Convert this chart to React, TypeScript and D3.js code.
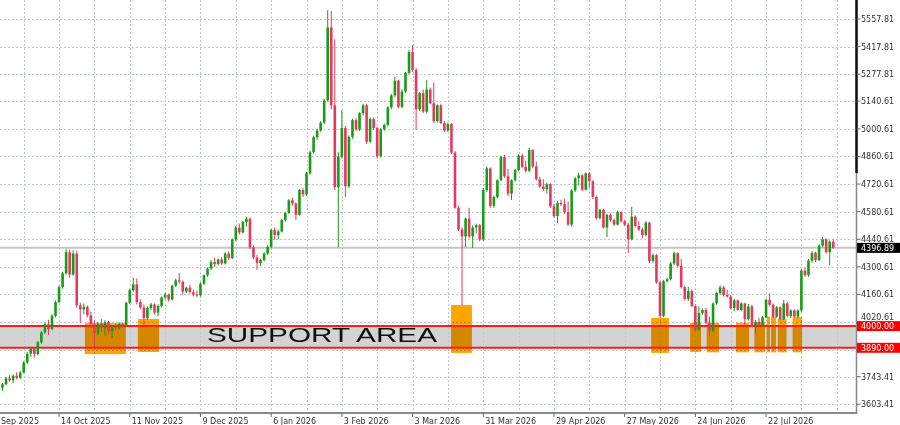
import React from "react";
import * as d3 from "d3";

// ---- Candles (daily), bar index 0..235 ----
const opens = [
  3688,3705,3735,3725,3748,3738,3765,3815,3860,3885,
  3858,3918,3968,4010,3985,4052,4122,4198,4268,4375,
  4262,4368,4105,4085,4098,4055,4010,3965,4012,3990,
  4020,3975,3995,3990,4010,4003,4118,4182,4212,4122,
  4095,4040,4092,4110,4068,4102,4145,4160,4135,4205,
  4232,4225,4175,4195,4172,4160,4156,4215,4258,4292,
  4325,4315,4338,4318,4368,4345,4440,4500,4475,4528,
  4545,4400,4348,4320,4335,4368,4402,4487,4462,4480,
  4538,4574,4638,4622,4565,4690,4668,4775,4882,4958,
  4992,5032,5145,5515,5120,4705,4860,5005,4710,4960,
  5045,4998,5080,5120,4935,5050,5005,4862,4998,5020,
  5110,5170,5245,5112,5190,5284,5390,5300,5100,5182,
  5088,5200,5130,5040,5120,5030,4992,5025,4880,4600,
  4490,4455,4545,4455,4500,4512,4440,4690,4800,4610,
  4655,4740,4858,4760,4672,4740,4792,4865,4808,4788,
  4893,4810,4745,4708,4695,4720,4608,4558,4625,4618,
  4578,4515,4688,4750,4765,4692,4775,4735,4655,4548,
  4590,4500,4564,4538,4515,4578,4532,4515,4440,4555,
  4508,4490,4462,4525,4330,4360,4222,4052,4228,4238,
  4318,4370,4306,4198,4138,4178,4102,3982,4066,4082,
  4018,3978,4115,4168,4196,4158,4150,4092,4130,4082,
  4115,4035,4100,4002,4022,4005,4045,4133,4108,4048,
  4095,4035,4115,4052,4080,4048,4080,4282,4258,4332,
  4372,4335,4408,4440,4375,4428,
];
const highs = [
  3712,3742,3752,3755,3765,3772,3822,3868,3895,3892,
  3925,3975,4018,4032,4060,4130,4205,4275,4390,4388,
  4385,4382,4118,4115,4105,4072,4030,4022,4035,4030,
  4028,4005,4012,4020,4018,4125,4190,4245,4242,4135,
  4110,4100,4118,4115,4110,4150,4170,4165,4210,4240,
  4270,4232,4200,4210,4185,4180,4222,4262,4298,4335,
  4345,4342,4350,4375,4380,4445,4508,4520,4535,4555,
  4552,4408,4362,4342,4375,4410,4495,4500,4490,4545,
  4580,4645,4650,4628,4695,4700,4782,4890,4965,5000,
  5040,5152,5603,5598,5455,4882,5096,5015,4968,5052,
  5055,5085,5128,5126,5060,5058,5012,5005,5028,5115,
  5178,5265,5250,5200,5290,5402,5426,5310,5188,5200,
  5248,5210,5235,5125,5128,5040,5032,5030,4888,4612,
  4500,4550,4600,4510,4520,4518,4700,4810,4805,4662,
  4745,4865,4868,4798,4745,4798,4872,4875,4840,4905,
  4898,4835,4758,4745,4728,4725,4620,4635,4640,4645,
  4632,4695,4755,4778,4770,4780,4782,4740,4662,4595,
  4596,4570,4572,4545,4585,4582,4540,4525,4605,4562,
  4532,4500,4532,4530,4368,4365,4230,4235,4245,4325,
  4378,4375,4340,4205,4200,4186,4110,4100,4090,4092,
  4048,4120,4175,4207,4205,4185,4158,4138,4136,4120,
  4118,4112,4108,4030,4042,4050,4140,4166,4115,4102,
  4100,4133,4124,4085,4085,4085,4290,4295,4340,4380,
  4378,4415,4453,4446,4435,4440,
];
const lows = [
  3672,3700,3718,3712,3730,3732,3760,3808,3845,3840,
  3852,3910,3960,3955,3978,4045,4115,4190,4260,4245,
  4255,4095,4015,4060,4045,3990,3893,3955,3970,3950,
  3960,3940,3978,3982,3990,3998,4112,4175,4110,4085,
  4005,4030,4080,4060,4050,4095,4135,4125,4130,4198,
  4215,4160,4168,4165,4150,4148,4150,4208,4250,4285,
  4300,4308,4310,4312,4335,4340,4430,4465,4470,4505,
  4390,4340,4285,4305,4328,4360,4395,4437,4440,4475,
  4530,4568,4610,4538,4560,4655,4660,4768,4875,4945,
  4985,5025,5138,5100,4690,4400,4850,4655,4700,4950,
  4990,4990,5070,4925,4930,4995,4850,4855,4990,5012,
  5100,5160,5105,5105,5182,5278,5290,4995,5090,5080,
  5080,5125,5030,5032,5025,4985,4985,4872,4595,4482,
  4107,4400,4445,4396,4470,4430,4432,4680,4600,4600,
  4648,4735,4752,4660,4640,4732,4785,4800,4780,4780,
  4800,4738,4700,4685,4672,4600,4550,4522,4610,4570,
  4508,4505,4680,4712,4685,4688,4700,4645,4540,4540,
  4495,4452,4530,4508,4510,4525,4508,4370,4435,4500,
  4482,4445,4455,4320,4322,4215,4040,4045,4220,4232,
  4310,4300,4190,4130,4128,4095,3970,3975,4058,4010,
  3950,3970,4108,4160,4150,4145,4085,4075,4078,4075,
  3997,4028,3995,3963,3995,3998,4040,4100,4040,4042,
  4028,4030,4045,4040,4042,4040,4072,4250,4250,4322,
  4325,4330,4400,4368,4310,4392,
];
const closes = [
  3705,3735,3725,3748,3738,3765,3815,3860,3885,3858,
  3918,3968,4010,3985,4052,4122,4198,4268,4375,4262,
  4368,4105,4085,4098,4055,4010,3965,4012,3990,4020,
  3975,3995,3990,4010,4003,4118,4182,4212,4122,4095,
  4040,4092,4110,4068,4102,4145,4160,4135,4205,4232,
  4225,4175,4195,4172,4160,4156,4215,4258,4292,4325,
  4315,4338,4318,4368,4345,4440,4500,4475,4528,4545,
  4400,4348,4320,4335,4368,4402,4487,4462,4480,4538,
  4574,4638,4622,4565,4690,4668,4775,4882,4958,4992,
  5032,5145,5515,5120,4705,4860,5005,4710,4960,5045,
  4998,5080,5120,4935,5050,5005,4862,4998,5020,5110,
  5170,5245,5112,5190,5284,5390,5300,5100,5182,5088,
  5200,5130,5040,5120,5030,4992,5025,4880,4600,4490,
  4455,4545,4455,4500,4512,4440,4690,4800,4610,4655,
  4740,4858,4760,4672,4740,4792,4865,4808,4788,4893,
  4810,4745,4708,4695,4720,4608,4558,4625,4618,4578,
  4515,4688,4750,4765,4692,4775,4735,4655,4548,4590,
  4500,4564,4538,4515,4578,4532,4515,4440,4555,4508,
  4490,4462,4525,4330,4360,4222,4052,4228,4238,4318,
  4370,4306,4198,4138,4178,4102,3982,4066,4082,4018,
  3978,4115,4168,4196,4158,4150,4092,4130,4082,4115,
  4035,4100,4002,4022,4005,4045,4133,4108,4048,4095,
  4035,4115,4052,4080,4048,4080,4282,4258,4332,4372,
  4335,4408,4440,4375,4428,4396.89,
];

// ---- Axis labels ----
const priceGrid = [5557.81, 5417.81, 5277.81, 5140.61, 5000.61, 4860.61, 4720.61, 4580.61, 4440.61, 4300.61, 4160.61, 4020.61, 3880.61, 3743.41, 3603.41];
const priceLabels = [5557.81, 5417.81, 5277.81, 5140.61, 5000.61, 4860.61, 4720.61, 4580.61, 4440.61, 4300.61, 4160.61, 4020.61, 3743.41, 3603.41];
const dateLabels = ["Sep 2025", "14 Oct 2025", "11 Nov 2025", "9 Dec 2025", "6 Jan 2026", "3 Feb 2026", "3 Mar 2026", "31 Mar 2026", "29 Apr 2026", "27 May 2026", "24 Jun 2026", "22 Jul 2026"];
const dateBars = [-4, 16, 36, 56, 76, 96, 116, 136, 156, 176, 196, 216];
const gridBars = [6, 16, 26, 36, 46, 56, 66, 76, 86, 96, 106, 116, 126, 136, 146, 156, 166, 176, 186, 196, 206, 216, 226, 236];

// ---- Annotations ----
const supportTop = 4000;
const supportBottom = 3890;
const lastPrice = 4396.89;
const supportText = "SUPPORT AREA";
const zoneStart = [23.3, 38.3, 126.9, 183.5, 194.5, 199.2, 207.5, 212.7, 216.2, 217.4, 219.3, 223.5];
const zoneEnd = [34.9, 44.3, 132.8, 188.5, 197.6, 202.7, 211.2, 215.7, 217.1, 218.8, 221.8, 226.2];
const zoneTop = [4015, 4036, 4107, 4041, 4016, 4017, 4017, 4017, 4048, 4048, 4036, 4045];
const zoneBottom = [3858, 3869, 3864, 3864, 3869, 3867, 3867, 3867, 3867, 3867, 3867, 3867];

export default function App() {
  const W = 900;
  const H = 425;
  const plotRight = 856.5;
  const plotBottom = 413;
  const step = 3.535;
  const x = d3.scaleLinear().domain([0, 235]).range([2.5, 2.5 + 235 * step]);
  const y = d3.scaleLinear().domain([3603.41, 5557.81]).range([404.3, 19]);
  const bodyW = 2.6;
  const axisFont = "'DejaVu Sans', Verdana, sans-serif";
  const up = "#179c17";
  const down = "#e6375f";
  const gridColor = "#c3c9d2";

  const candles = d3.range(opens.length).map((i) => {
    const o = opens[i];
    const c = closes[i];
    const h = Math.max(highs[i], o, c);
    const l = Math.min(lows[i], o, c);
    return { i, o, c, h, l };
  });

  return (
    <svg
      width={W}
      height={H}
      style={{ position: "absolute", left: 0, top: 0, display: "block", background: "#fff" }}
    >
      <rect x={0} y={0} width={W} height={H} fill="#ffffff" />

      {/* support band */}
      <rect
        x={0}
        y={y(supportTop)}
        width={plotRight}
        height={y(supportBottom) - y(supportTop)}
        fill="#d3d3d3"
      />

      {/* grid */}
      <g stroke={gridColor} strokeWidth={1} strokeDasharray="2,2">
        {priceGrid.map((v) => (
          <line key={"hg" + v} x1={0} x2={plotRight} y1={Math.round(y(v)) + 0.5} y2={Math.round(y(v)) + 0.5} />
        ))}
        {gridBars.map((b) => (
          <line key={"vg" + b} x1={Math.round(x(b)) + 0.5} x2={Math.round(x(b)) + 0.5} y1={0} y2={plotBottom} />
        ))}
      </g>

      {/* orange zones */}
      <g>
        {zoneStart.map((s, k) => (
          <rect
            key={"z" + k}
            x={x(s)}
            y={y(zoneTop[k])}
            width={x(zoneEnd[k]) - x(s)}
            height={y(zoneBottom[k]) - y(zoneTop[k])}
            fill="#ffa500"
            style={{ mixBlendMode: "multiply" }}
          />
        ))}
      </g>

      {/* current price line */}
      <line x1={0} x2={plotRight} y1={y(lastPrice)} y2={y(lastPrice)} stroke="#c6c6c6" strokeWidth={2} />

      {/* support lines */}
      <line x1={0} x2={plotRight} y1={y(supportTop)} y2={y(supportTop)} stroke="#ff1a1a" strokeWidth={2} />
      <line x1={0} x2={plotRight} y1={y(supportBottom)} y2={y(supportBottom)} stroke="#ff1a1a" strokeWidth={2} />

      {/* candles */}
      <g>
        {candles.map((d) => {
          const col = d.c >= d.o ? up : down;
          const cx = x(d.i);
          const top = y(Math.max(d.o, d.c));
          const bot = y(Math.min(d.o, d.c));
          return (
            <g key={"c" + d.i}>
              <line x1={cx} x2={cx} y1={y(d.h)} y2={y(d.l)} stroke={col} strokeWidth={1} />
              <rect x={cx - bodyW / 2} y={top} width={bodyW} height={Math.max(1, bot - top)} fill={col} />
            </g>
          );
        })}
      </g>

      {/* support text */}
      <text
        x={207}
        y={342}
        fontFamily="'Liberation Sans', Arial, sans-serif"
        fontSize={21}
        fill="#111"
        textLength={230}
        lengthAdjust="spacingAndGlyphs"
      >
        {supportText}
      </text>

      {/* axes lines */}
      <line x1={0} x2={plotRight + 0.5} y1={plotBottom} y2={plotBottom} stroke="#8a8a8a" strokeWidth={2} />
      <line x1={plotRight} x2={plotRight} y1={0} y2={plotBottom + 1} stroke="#8a8a8a" strokeWidth={1.5} />
      <line x1={plotRight} x2={plotRight} y1={0} y2={173} stroke="#111" strokeWidth={2.5} />

      {/* y ticks + labels */}
      <g fontFamily={axisFont} fontSize={8} fill="#333">
        {priceGrid.map((v) => (
          <line key={"yt" + v} x1={plotRight} x2={plotRight + 4} y1={y(v)} y2={y(v)} stroke="#666" strokeWidth={1} />
        ))}
        {priceLabels.map((v) => (
          <text key={"yl" + v} x={861} y={v === 4020.61 ? y(v) - 2.5 : y(v) + 3}>{v.toFixed(2)}</text>
        ))}
      </g>

      {/* x ticks + labels */}
      <g fontFamily={axisFont} fontSize={8} fill="#333">
        {dateBars.map((b, k) => (
          <g key={"xl" + b}>
            <line x1={x(b)} x2={x(b)} y1={plotBottom} y2={plotBottom + 4} stroke="#666" strokeWidth={1} />
            <text x={Math.max(x(b) + 2, 1)} y={423.5}>{dateLabels[k]}</text>
          </g>
        ))}
      </g>

      {/* price tags */}
      {[supportTop, supportBottom].map((v) => (
        <g key={"tag" + v}>
          <rect x={plotRight + 0.5} y={y(v) - 5} width={W - plotRight} height={10} fill="#ff0000" />
          <text x={861} y={y(v) + 3} fontFamily={axisFont} fontSize={8} fill="#fff">{v.toFixed(2)}</text>
        </g>
      ))}
      <rect x={plotRight + 0.5} y={y(lastPrice) - 5} width={W - plotRight} height={10} fill="#000" />
      <text x={861} y={y(lastPrice) + 3} fontFamily={axisFont} fontSize={8} fill="#fff">{lastPrice.toFixed(2)}</text>
    </svg>
  );
}
